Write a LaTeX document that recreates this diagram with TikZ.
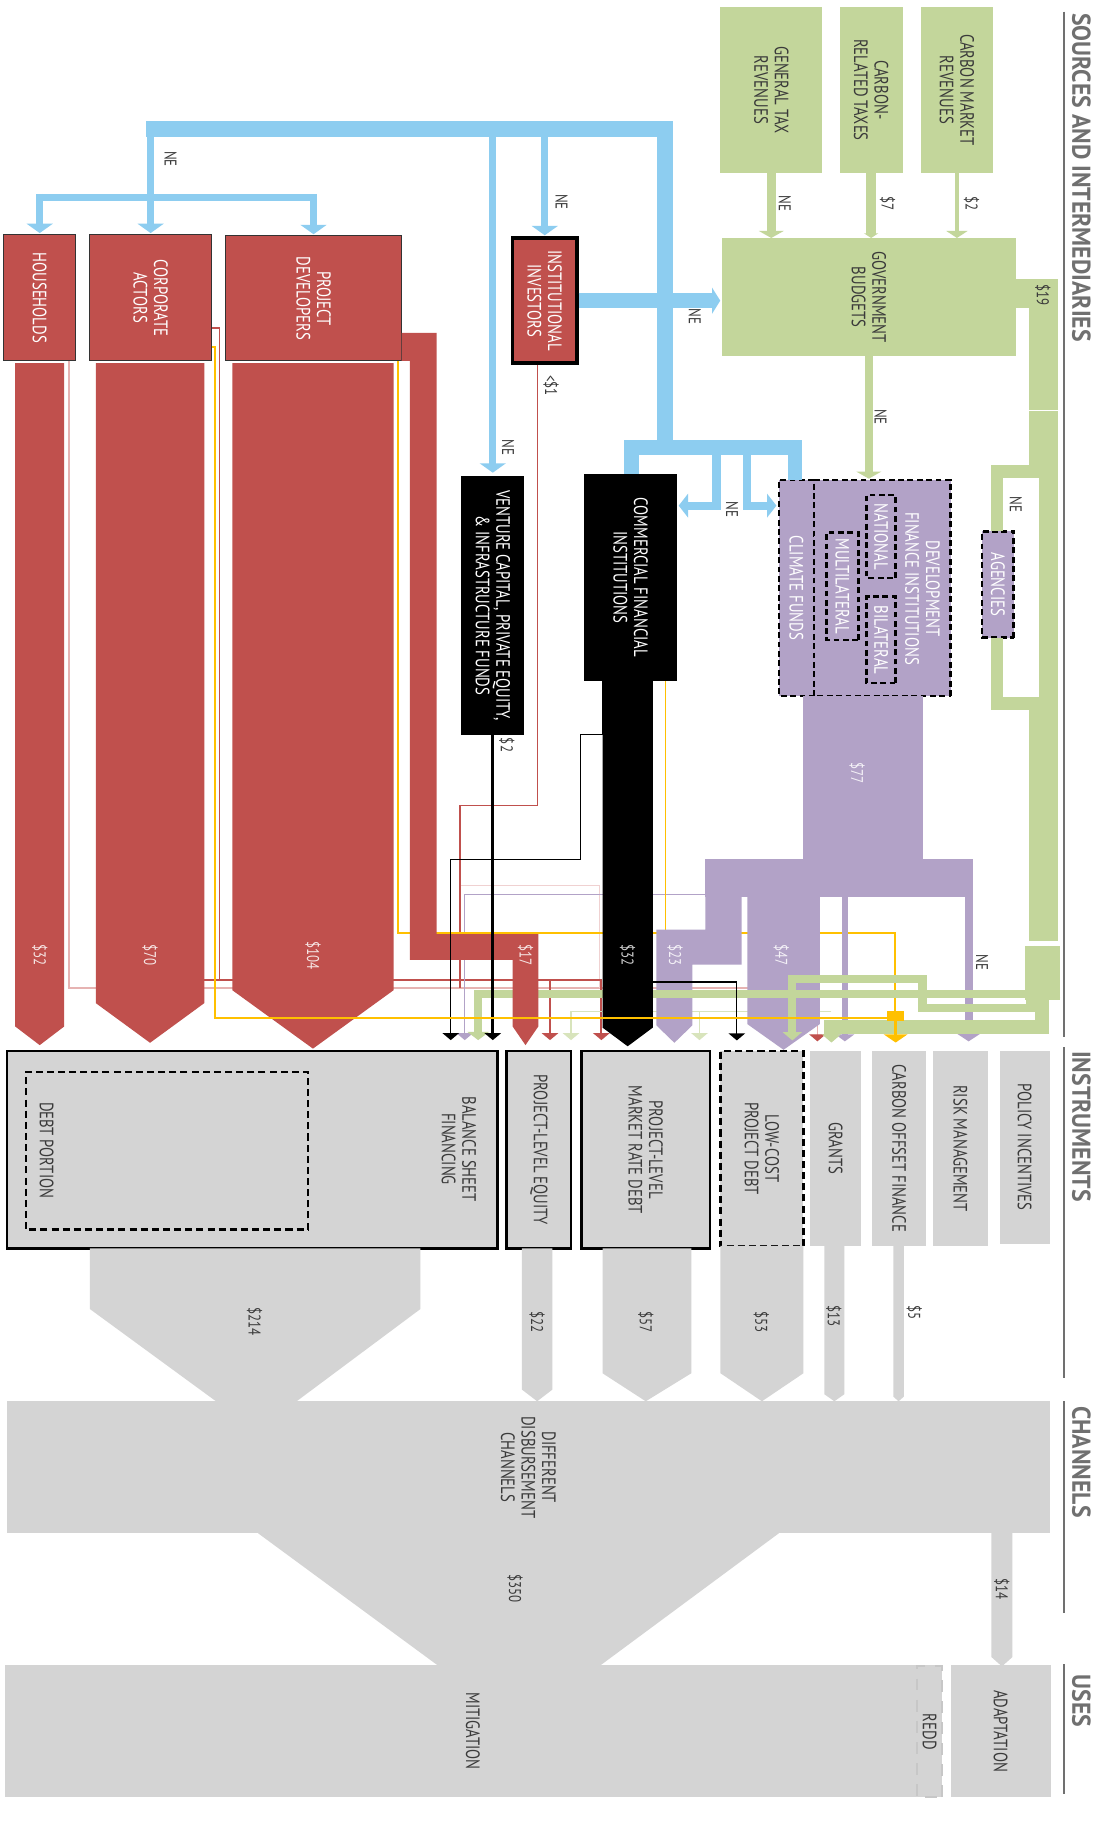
\documentclass[tikz,border=0pt]{standalone}
\usepackage{fontspec}
\setmainfont{PT Sans}[FakeStretch=0.76]
\newfontfamily\secfont{PT Sans}[FakeStretch=0.92]
\usetikzlibrary{arrows.meta}

\definecolor{flowred}{HTML}{C0504D}
\definecolor{flowgreen}{HTML}{C3D69B}
\definecolor{palegreen}{HTML}{D8E4BC}
\definecolor{flowblue}{HTML}{8DCDF0}
\definecolor{flowpurple}{HTML}{B2A2C7}
\definecolor{instgray}{HTML}{D4D4D4}
\definecolor{flowyellow}{HTML}{FFC000}
\definecolor{linkpink}{HTML}{E6B3B2}
\definecolor{labeltext}{HTML}{3A3A3A}
\definecolor{headgray}{HTML}{707070}

\newcommand\boxfont{\fontsize{16.5}{17.5}\selectfont}
\newcommand\valfont{\fontsize{14.5}{16}\selectfont}
% one rotated box: name, style, x1, y1, x2, y2, text
\newcommand\flowbox[7]{%
  \node[#2, minimum width={(#6-#4)*0.035cm}, minimum height={(#5-#3)*0.035cm}]
    (#1) at ({(#3+#5)/2},{(#4+#6)/2}) {#7};}

\begin{document}
\begin{tikzpicture}[x=0.035cm, y=-0.035cm,
  box/.style={rotate=-90, inner sep=0pt, align=center, font=\boxfont, text=labeltext},
  srcbox/.style={box, fill=flowgreen},
  actorbox/.style={box, fill=flowred, draw=black!80, line width=0.8pt, text=white},
  darkbox/.style={box, fill=black, text=white},
  dfibox/.style={box, fill=flowpurple, draw=black, line width=2.2pt, dash pattern=on 5pt off 3pt, text=white},
  instrbox/.style={box, fill=instgray},
  framed/.style={draw=black, line width=2.5pt},
  dashframe/.style={draw=black, line width=2pt, dash pattern=on 6pt off 3.5pt},
  val/.style={rotate=-90, inner sep=0pt, font=\valfont},
  note/.style={rotate=-90, inner sep=0pt, font=\valfont, text=labeltext},
  sec/.style={rotate=-90, inner sep=0pt, anchor=west, text=headgray,
    font=\secfont\bfseries\fontsize{22}{24}\selectfont},
  rule/.style={draw=headgray, line width=1.3pt},
  blueflow/.style={flowblue, line width=6pt, -{Triangle[width=22pt,length=8pt]}, shorten >=1pt},
  greenflow/.style={flowgreen, -{Triangle[width=21pt,length=6pt]}},
  tip/.style={-{Triangle[width=14pt,length=6pt]}, shorten >=8pt}]
\useasboundingbox (0,0) rectangle (941,1568);
\fill[white] (0,0) rectangle (941,1568);

% sources
\flowbox{gentax}{srcbox}{617}{6}{704}{148}{GENERAL TAX\\REVENUES}
\flowbox{carbtax}{srcbox}{719}{6}{773}{148}{CARBON-\\RELATED TAXES}
\flowbox{carbmkt}{srcbox}{789}{6}{850}{148}{CARBON MARKET\\REVENUES}
\flowbox{govbud}{srcbox}{618}{204}{870}{305}{GOVERNMENT\\BUDGETS}

% private actors
\flowbox{households}{actorbox}{3}{201}{65}{309}{HOUSEHOLDS}
\flowbox{corporate}{actorbox}{77}{201}{181}{309}{CORPORATE\\ACTORS}
\flowbox{developers}{actorbox}{193}{202}{344}{309}{PROJECT\\DEVELOPERS}
\flowbox{institutional}{actorbox, draw=black, line width=3pt}{439}{204}{494}{311}{INSTITUTIONAL\\INVESTORS}

% intermediaries
\flowbox{venture}{darkbox}{395}{408}{449}{629}{VENTURE CAPITAL, PRIVATE EQUITY,\\\& INFRASTRUCTURE FUNDS}
\flowbox{commercial}{darkbox}{500}{406}{580}{583}{COMMERCIAL FINANCIAL\\INSTITUTIONS}
\flowbox{climate}{dfibox}{667}{411}{697}{596}{CLIMATE FUNDS}
\flowbox{dfi}{dfibox}{697}{411}{814}{596}{}
\flowbox{national}{dfibox}{742}{424}{767}{495}{NATIONAL}
\flowbox{multilateral}{dfibox}{708}{456}{735}{548}{MULTILATERAL}
\flowbox{bilateral}{dfibox}{742}{511}{767}{585}{BILATERAL}
\flowbox{agencies}{dfibox}{841}{455}{868}{546}{AGENCIES}
\node[box, text=white] (dfitext) at (790,504) {DEVELOPMENT\\FINANCE INSTITUTIONS};

% instruments
\flowbox{balance}{instrbox, framed}{6}{900}{426}{1069}{}
\flowbox{debt}{instrbox, dashframe}{22}{918}{264}{1053}{}
\node[box] (balancetext) at (393,984) {BALANCE SHEET\\FINANCING};
\node[box] (debttext) at (40,985) {DEBT PORTION};
\flowbox{equity}{instrbox, framed}{434}{900}{489}{1069}{PROJECT-LEVEL EQUITY}
\flowbox{marketdebt}{instrbox, framed}{498}{900}{608}{1069}{PROJECT-LEVEL\\MARKET RATE DEBT}
\flowbox{lowcost}{instrbox, dashframe}{617}{900}{688}{1067}{LOW-COST\\PROJECT DEBT}
\flowbox{grants}{instrbox}{694}{900}{737}{1067}{GRANTS}
\flowbox{offset}{instrbox}{747}{900}{793}{1067}{CARBON OFFSET FINANCE}
\flowbox{risk}{instrbox}{799}{900}{846}{1067}{RISK MANAGEMENT}
\flowbox{policy}{instrbox}{856}{900}{899}{1065}{POLICY INCENTIVES}

% channels and uses
\flowbox{channels}{instrbox}{6}{1200}{899}{1313}{DIFFERENT\\DISBURSEMENT\\CHANNELS}
\flowbox{mitigation}{instrbox}{4}{1426}{806}{1539}{MITIGATION}
\flowbox{redd}{instrbox, draw=black!22, line width=1.5pt, dash pattern=on 10pt off 8pt}{785}{1427}{807}{1539}{REDD}
\flowbox{adaptation}{instrbox}{814}{1426}{900}{1539}{ADAPTATION}

% blue network
\fill[flowblue] (125,104) rectangle (576,117);
\fill[flowblue] (563,117) rectangle (576,390);
\fill[flowblue] (534,377) rectangle (687,390);
\fill[flowblue] (534,390) rectangle (547,406);
\fill[flowblue] (675,390) rectangle (687,411);
\fill[flowblue] (31,166) rectangle (271,172);
\draw[blueflow] (corporate.west |- 0,104) -- (corporate.west);
\draw[blueflow] (households.west |- 0,166) -- (households.west);
\draw[blueflow] (developers.west |- 0,166) -- (developers.west);
\draw[blueflow, shorten >=3pt] (venture.west |- 0,110) -- (venture.west);
\draw[blueflow] (institutional.west |- 0,110) -- (institutional.west);
\draw[blueflow, line width=13pt, -{Triangle[width=22pt,length=7pt]}] (institutional.north) -- (institutional.north -| govbud.south);
\draw[blueflow, line width=7pt, -{Triangle[width=20pt,length=8pt]}] (613.5,384) |- (commercial.north |- 0,433);
\draw[blueflow, line width=7pt, -{Triangle[width=20pt,length=8pt]}] (640,384) |- (climate.south |- 0,433);

% public sources into budgets
\draw[greenflow, line width=7.5pt] (gentax.east) -- (gentax.east |- govbud.west);
\draw[greenflow, line width=8.5pt, -{Triangle[width=12pt,length=4pt]}] (carbtax.east) -- (carbtax.east |- govbud.west);
\draw[greenflow, line width=2.7pt, -{Triangle[width=18pt,length=6pt]}] (carbmkt.east) -- (carbmkt.east |- govbud.west);
\draw[greenflow, line width=7pt] (govbud.east) -- (govbud.east |- dfi.west);

% $19 band and agencies loop
\fill[flowgreen] (870,239) rectangle (906,264);
\fill[flowgreen] (890,264) rectangle (906,806);
\fill[flowgreen] (881,264) rectangle (890,409);
\fill[flowgreen] (849,398) rectangle (890,409);
\fill[flowgreen] (849,409) rectangle (859,455);
\fill[flowgreen] (849,546) rectangle (859,608);
\fill[flowgreen] (849,597) rectangle (890,608);
\fill[flowgreen] (881,608) rectangle (890,806);
\fill[flowgreen] (878,810) rectangle (908,856);
\draw[white, line width=0.8pt] (881,351.5) -- (906,351.5);

% thin links below the flows
\draw[linkpink, line width=1.1pt, -{Triangle[width=14pt,length=6pt,color=flowred]}, shorten >=8pt]
  (households.east -| 59,0) |- (700,846) -- (700,0 |- grants.west);
\draw[linkpink!60, line width=0.8pt] (394,758) -| (513,846);
\draw[flowred, line width=1.8pt, tip] (175,839) -| (515,0 |- marketdebt.west);
\draw[flowred, line width=1.8pt, tip] (471,839) -- (471,0 |- equity.west);
\draw[flowred, line width=1.1pt] (corporate.north |- 0,281) -| (188,839);
\draw[flowred, line width=1.1pt] (institutional.east -| 460,0) |- (394,690) -- (394,846);
\draw[flowpurple, line width=1.1pt, tip] (604,766) -| (398,0 |- balance.west);
\draw[palegreen, line width=1.1pt, tip] (712,866) -| (489,0 |- equity.west);
\draw[palegreen, line width=1.1pt, tip] (599,866) -- (599,0 |- marketdebt.west);
\draw[flowyellow, line width=1.4pt] (developers.east -| 341,0) -- (341,799) -- (766.5,799) -- (766.5,868);
\draw[flowyellow, line width=1.4pt] (commercial.east -| 570,0) -- (570,799);

% development finance flows
\fill[flowpurple] (688,596) rectangle (790,736);
\fill[flowpurple] (604,736) rectangle (833,768);
\fill[flowpurple] (604,768) -- (635,768) -- (635,826) -- (593,826) -- (593,878) -- (577.5,893)
  -- (562,878) -- (562,796) -- (604,796) -- cycle;
\fill[flowpurple] (640,768) -- (702,768) -- (702,877) -- (671,899) -- (640,877) -- cycle;
\draw[flowpurple, line width=5pt, -{Triangle[width=16pt,length=6pt]}, shorten >=8pt] (723.5,768) -- (723.5,0 |- grants.west);
\draw[flowpurple, line width=7pt, -{Triangle[width=21pt,length=7pt]}, shorten >=8pt] (829.5,768) -- (829.5,0 |- risk.west);

% public money to instruments
\draw[flowgreen, line width=7pt, -{Triangle[width=18pt,length=7pt]}, shorten >=8pt]
  (908,851.5) -| (409.5,0 |- balance.west);
\draw[flowgreen, line width=7pt, -{Triangle[width=16pt,length=7pt]}, shorten >=8pt]
  (882.5,810) |- (790,863.5) |- (678.5,838.5) -- (678.5,0 |- lowcost.west);
\draw[flowgreen, line width=12pt, -{Triangle[width=16pt,length=7pt]}, shorten >=7pt]
  (892.5,810) |- (712,879.5) -- (712,0 |- grants.west);

% private flows
\fill[flowred] (13,311) -- (55,311) -- (55,879) -- (34,895) -- (13,879) -- cycle;
\fill[flowred] (82,311) -- (175,311) -- (175,859) -- (128.5,893) -- (82,859) -- cycle;
\fill[flowred] (199,311) -- (337,311) -- (337,848) -- (268,898) -- (199,848) -- cycle;
\fill[flowred] (344,285) -- (374,285) -- (374,800) -- (461,800) -- (461,879) -- (450,895)
  -- (439,879) -- (439,822) -- (351,822) -- (351,309) -- (344,309) -- cycle;
\fill[black] (516,583) -- (559,583) -- (559,880) -- (537.5,896) -- (516,880) -- cycle;

% thin links on top
\draw[black, line width=2.2pt, tip] (venture.east) -- (venture.east |- balance.west);
\draw[black, line width=1.1pt, tip] (commercial.east -| 516,0) |- (497,629) |- (386,736) -- (386,0 |- balance.west);
\draw[black, line width=1.1pt, tip] (commercial.east -| 559,0) |- (631,841) -- (631,0 |- lowcost.west);
\draw[flowyellow, line width=1.4pt] (corporate.north |- 0,297) -| (184,872) -- (767,872);
\fill[flowyellow] (760,866) rectangle (774,874);
\draw[flowyellow, line width=2pt, -{Triangle[width=20pt,length=7pt]}, shorten >=7pt] (767,874) -- (767,0 |- offset.west);

% instruments to channels to uses
\fill[instgray] (77,1069) -- (360,1069) -- (360,1121) -- (254,1200) -- (185,1200) -- (77,1121) -- cycle;
\fill[instgray] (447,1069) -- (473,1069) -- (473,1190) -- (460,1200) -- (447,1190) -- cycle;
\fill[instgray] (516,1069) -- (592,1069) -- (592,1176) -- (553,1200) -- (516,1176) -- cycle;
\fill[instgray] (617,1067) -- (688,1067) -- (688,1176) -- (652.5,1200) -- (617,1176) -- cycle;
\fill[instgray] (706,1067) -- (723,1067) -- (723,1194) -- (714.5,1200) -- (706,1194) -- cycle;
\fill[instgray] (765,1067) -- (774,1067) -- (774,1196) -- (769.5,1200) -- (765,1196) -- cycle;
\fill[instgray] (221,1313) -- (667,1313) -- (513,1427) -- (376,1427) -- cycle;
\fill[instgray] (849,1313) -- (867,1313) -- (867,1419) -- (858,1427) -- (849,1419) -- cycle;

% amounts
\node[val, text=white!85!flowred] (vhouse) at (34,818) {\$32};
\node[val, text=white!85!flowred] (vcorp) at (128.5,818) {\$70};
\node[val, text=white!85!flowred] (vdev) at (268,818) {\$104};
\node[val, text=white!85!flowred] (vside) at (450,818) {\$17};
\node[val, text=white!80!black] (vcomm) at (537.5,818) {\$32};
\node[val, text=white!85!flowpurple] (vdfi) at (734,662) {\$77};
\node[val, text=white!85!flowpurple] (vtwo) at (578,818) {\$23};
\node[val, text=white!85!flowpurple] (vfour) at (669,818) {\$47};
\node[val, text=labeltext] (vbal) at (218,1132) {\$214};
\node[val, text=labeltext] (veq) at (460,1132) {\$22};
\node[val, text=labeltext] (vmkt) at (553,1132) {\$57};
\node[val, text=labeltext] (vlow) at (652,1132) {\$53};
\node[val, text=labeltext] (vgr) at (714,1127) {\$13};
\node[val, text=labeltext] (voff) at (783,1124) {\$5};
\node[val, text=labeltext] (vmit) at (441,1360) {\$350};
\node[val, text=labeltext] (vad) at (858,1361) {\$14};

% flow notes
\node[note] (negen) at (672,174) {NE};
\node[note] (ncarb) at (760,174) {\$7};
\node[note] (nmkt) at (832,174) {\$2};
\node[note] (nebar) at (146,136) {NE};
\node[note] (neinst) at (481,173) {NE};
\node[note] (nevent) at (435,383) {NE};
\node[note] (negov) at (595,271) {NE};
\node[note] (nedfi) at (754,357) {NE};
\node[note] (necomm) at (627,436) {NE};
\node[note] (neag) at (870,432) {NE};
\node[note] (nerisk) at (841,824) {NE};
\node[note] (ninst) at (472,330) {<\$1};
\node[note] (nvent) at (434,638) {\$2};
\node[note] (nbud) at (893,253) {\$19};

% stage headings
\node[sec] (hsrc) at (926,11) {SOURCES AND INTERMEDIARIES};
\node[sec] (hinstr) at (926,900) {INSTRUMENTS};
\node[sec] (hchan) at (926,1204) {CHANNELS};
\node[sec] (huse) at (926,1434) {USES};
\draw[rule] (911,10) -- (911,888);
\draw[rule] (911,897) -- (911,1180);
\draw[rule] (911,1200) -- (911,1381);
\draw[rule] (911,1425) -- (911,1536);
\end{tikzpicture}
\end{document}
